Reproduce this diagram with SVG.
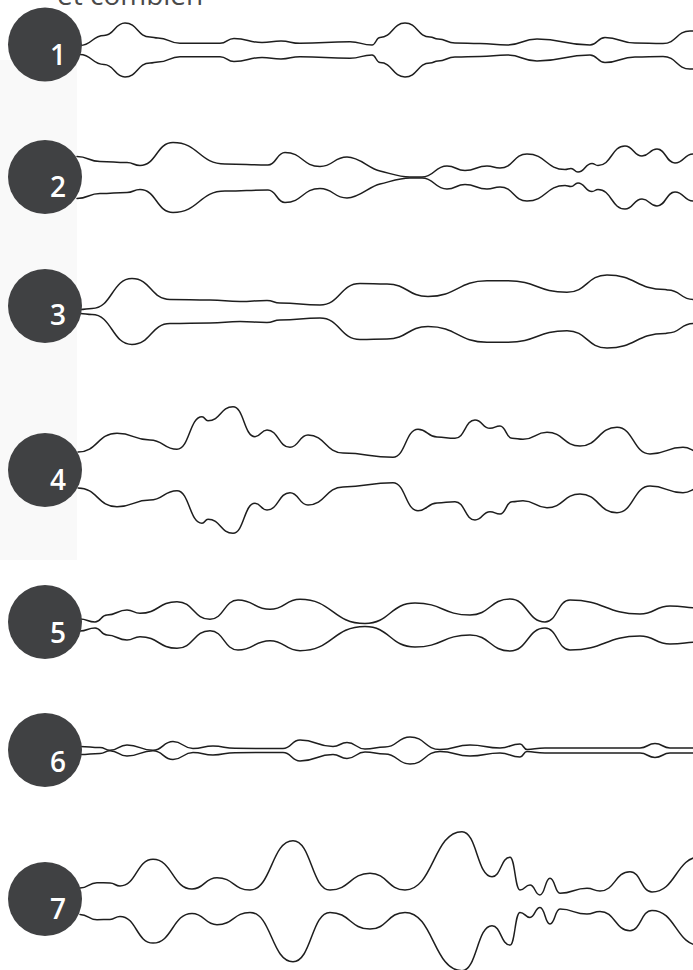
<svg xmlns="http://www.w3.org/2000/svg" xmlns:xlink="http://www.w3.org/1999/xlink" width="693" height="970" viewBox="0 0 693 970">
  <style>
    .badge { fill: #404143; }
    .num { fill: #ffffff; font-family: "Open Sans", "Liberation Sans", sans-serif; font-size: 28px; font-weight: 600; text-anchor: middle; }
    .wave { fill: none; stroke: #1e1e1e; stroke-width: 1.5; stroke-linejoin: round; stroke-linecap: round; }
    .caption { fill: #4a4a4a; font-family: "Open Sans", "Liberation Sans", sans-serif; font-size: 28px; }
  </style>
  <defs>
    <path id="w1" d="M80,45.5 C92,45.5 92,35.5 104,35.5 C114.5,35.5 114.5,23 125,23 C137.5,23 137.5,37 150,37 C154,37 154,38 158,38 C169,38 169,43.3 180,43.3 L220,43.3 C227,43.3 227,38.5 234,38.5 C248,38.5 248,42.5 262,42.5 C271.5,42.5 271.5,41 281,41 C290.5,41 290.5,43.3 300,43.3 C325,43.3 325,41.7 350,41.7 C361,41.7 361,45 372,45 C376,45 376,37.5 380,37.5 C392.5,37.5 392.5,23 405,23 C417.5,23 417.5,37 430,37 C434,37 434,39 438,39 C446.5,39 446.5,43 455,43 C467.5,43 467.5,43.5 480,43.5 C493.5,43.5 493.5,45 507,45 C522,45 522,39 537,39 C563.5,39 563.5,45 590,45 C597.5,45 597.5,37.5 605,37.5 C620,37.5 620,43 635,43 C649,43 649,43.5 663,43.5 C676.5,43.5 676.5,31 690,31 L700,31"/>
    <path id="w2" d="M77,156.5 C88.5,156.5 88.5,161.5 100,161.5 C113.5,161.5 113.5,162.5 127,162.5 C133.5,162.5 133.5,165.5 140,165.5 C156.5,165.5 156.5,142.5 173,142.5 C199,142.5 199,164 225,164 C246.5,164 246.5,165 268,165 C276.5,165 276.5,152.5 285,152.5 C302.5,152.5 302.5,166.5 320,166.5 C333.5,166.5 333.5,157 347,157 C360,157 369,168.7 380,171 C390,173.1 398,177 410,177 L422,177 C434.5,177 434.5,166 447,166 C456,166 456,170.5 465,170.5 C476,170.5 476,166 487,166 C493.5,166 493.5,168 500,168 C513.5,168 513.5,154 527,154 C546,154 546,169.5 565,169.5 C568,169.5 568,168.5 571,168.5 C574.5,168.5 574.5,172 578,172 C585,172 585,163.5 592,163.5 C595,163.5 595,165.5 598,165.5 C611.5,165.5 611.5,146 625,146 C633.5,146 633.5,156 642,156 C649.5,156 649.5,149 657,149 C666,149 666,163 675,163 C684,163 684,154 693,154 L700,154"/>
    <path id="w3" d="M80,309.5 C86,309.5 86,308.5 92,308.5 C112,308.5 112,278.5 132,278.5 C151,278.5 151,299.5 170,299.5 C190,299.5 190,300 210,300 C225,300 225,301.5 240,301.5 C253.5,301.5 253.5,300.5 267,300.5 C273.5,300.5 273.5,303 280,303 C300,303 300,305 320,305 C340,305 340,283.5 360,283.5 C373.5,283.5 373.5,284 387,284 C407.5,284 407.5,296.5 428,296.5 C457.5,296.5 457.5,280.7 487,280.7 L507,280.7 C537,280.7 537,292.3 567,292.3 C587,292.3 587,275 607,275 C636,275 636,289.5 665,289.5 C666.5,289.5 666.5,290 668,290 C680.5,290 680.5,299.5 693,299.5 L700,299.5"/>
    <path id="w4" d="M78,452 C97.5,452 97.5,433.3 117,433.3 C133.5,433.3 133.5,440 150,440 C163.5,440 163.5,449.3 177,449.3 C189.5,449.3 189.5,416.7 202,416.7 C205,416.7 205,420.7 208,420.7 C220.5,420.7 220.5,406.7 233,406.7 C244,406.7 244,436.7 255,436.7 C261,436.7 261,430 267,430 C278.5,430 278.5,447.3 290,447.3 C299,447.3 299,435 308,435 C325.5,435 325.5,453 343,453 C368,453 368,457.3 393,457.3 C405.5,457.3 405.5,429.3 418,429.3 C427.5,429.3 427.5,437 437,437 C446,437 446,438.3 455,438.3 C465,438.3 465,420 475,420 C482.5,420 482.5,428.3 490,428.3 C495,428.3 495,426 500,426 C506,426 506,438.3 512,438.3 C517.5,438.3 517.5,439.3 523,439.3 C535,439.3 535,432.3 547,432.3 C563.5,432.3 563.5,446 580,446 C598.5,446 598.5,427.3 617,427.3 C633.5,427.3 633.5,454 650,454 C666.5,454 666.5,447.3 683,447.3 C691.5,447.3 691.5,452 700,452"/>
    <path id="w5" d="M80,619 C87.5,619 87.5,622 95,622 C101,622 101,615 107,615 C117,615 117,610 127,610 C133.5,610 133.5,613.3 140,613.3 C158.5,613.3 158.5,601.7 177,601.7 C193.5,601.7 193.5,619.3 210,619.3 C224,619.3 224,600 238,600 C254,600 254,609.3 270,609.3 C285,609.3 285,599.3 300,599.3 C332.5,599.3 332.5,623.5 365,623.5 C390,623.5 390,603 415,603 C442.5,603 442.5,615 470,615 C490,615 490,599 510,599 C527.5,599 527.5,622 545,622 C557.5,622 557.5,600 570,600 C605,600 605,614 640,614 C655,614 655,606 670,606 C685,606 685,608 700,608"/>
    <path id="w6" d="M80,746.5 C90,746.5 90,747.5 100,747.5 C105,747.5 105,750.3 110,750.3 C118.5,750.3 118.5,745 127,745 C140,745 140,750.3 153,750.3 C163,750.3 163,741.5 173,741.5 C183,741.5 183,748.5 193,748.5 C203,748.5 203,746 213,746 C224,746 224,748.3 235,748.3 C259,748.3 259,748.5 283,748.5 C291.5,748.5 291.5,740 300,740 C316.5,740 316.5,746.5 333,746.5 C340,746.5 340,742.5 347,742.5 C356,742.5 356,749 365,749 C375,749 375,747 385,747 C397.5,747 397.5,737 410,737 C425,737 425,749.5 440,749.5 C455,749.5 455,745 470,745 C485,745 485,748 500,748 C510,748 510,744 520,744 C523.5,744 523.5,749.5 527,749.5 C535,749.5 535,748 545,748 C592.5,748 592.5,748 640,748 C647.5,748 647.5,743.5 655,743.5 C662.5,743.5 662.5,748 670,748 L700,748"/>
    <path id="w7" d="M80,888 C88.5,888 88.5,882.7 97,882.7 C103.5,882.7 103.5,883 110,883 C115,883 115,886 120,886 C136.5,886 136.5,859.3 153,859.3 C172.5,859.3 172.5,889 192,889 C204.5,889 204.5,877.7 217,877.7 C233.5,877.7 233.5,890 250,890 C271.5,890 271.5,840.7 293,840.7 C311.5,840.7 311.5,890 330,890 C350,890 350,873.3 370,873.3 C387.5,873.3 387.5,890 405,890 C433.5,890 433.5,831.7 462,831.7 C477,831.7 477,876.7 492,876.7 C501,876.7 501,857.3 510,857.3 C515,857.3 515,890 520,890 C525,890 525,885 530,885 C535,885 535,895 540,895 C545,895 545,878.3 550,878.3 C555,878.3 555,893.3 560,893.3 C573.5,893.3 573.5,888.3 587,888.3 C593.5,888.3 593.5,891 600,891 C615,891 615,871.7 630,871.7 C641,871.7 641,892 652,892 C676,892 676,857 700,857"/>
  </defs>

  <!-- page background with the faint backdrop letter -->
  <rect x="0" y="0" width="693" height="970" fill="#ffffff"/>
  <rect x="0" y="60" width="100" height="500" fill="#f9f9f9"/>
  <rect x="77" y="0" width="616" height="970" fill="#ffffff"/>

  <text class="caption" x="57" y="5">et combien</text>

  <!-- waveform pairs: upper trace plus its mirror about the row axis -->
  <g id="connectors">
    <use xlink:href="#w1" class="wave"/>
    <use xlink:href="#w1" class="wave" transform="matrix(1,0,0,-1,0,100)"/>
    <use xlink:href="#w2" class="wave"/>
    <use xlink:href="#w2" class="wave" transform="matrix(1,0,0,-1,0,355)"/>
    <use xlink:href="#w3" class="wave"/>
    <use xlink:href="#w3" class="wave" transform="matrix(1,0,0,-1,0,623)"/>
    <use xlink:href="#w4" class="wave"/>
    <use xlink:href="#w4" class="wave" transform="matrix(1,0,0,-1,0,940)"/>
    <use xlink:href="#w5" class="wave"/>
    <use xlink:href="#w5" class="wave" transform="matrix(1,0,0,-1,0,1250)"/>
    <use xlink:href="#w6" class="wave"/>
    <use xlink:href="#w6" class="wave" transform="matrix(1,0,0,-1,0,1501)"/>
    <use xlink:href="#w7" class="wave"/>
    <use xlink:href="#w7" class="wave" transform="matrix(1,0,0,-1,0,1802.4)"/>
  </g>

  <!-- numbered badges -->
  <g id="badge1"><circle class="badge" cx="45" cy="44.5" r="37"/><text class="num" x="58" y="65">1</text></g>
  <g id="badge2"><circle class="badge" cx="45" cy="177" r="37"/><text class="num" x="58" y="197">2</text></g>
  <g id="badge3"><circle class="badge" cx="45" cy="306" r="37"/><text class="num" x="58" y="325">3</text></g>
  <g id="badge4"><circle class="badge" cx="45" cy="470" r="37"/><text class="num" x="58" y="490">4</text></g>
  <g id="badge5"><circle class="badge" cx="45" cy="622" r="37"/><text class="num" x="58" y="643">5</text></g>
  <g id="badge6"><circle class="badge" cx="45" cy="750" r="37"/><text class="num" x="58" y="772">6</text></g>
  <g id="badge7"><circle class="badge" cx="45" cy="899" r="37"/><text class="num" x="58" y="919">7</text></g>
</svg>
